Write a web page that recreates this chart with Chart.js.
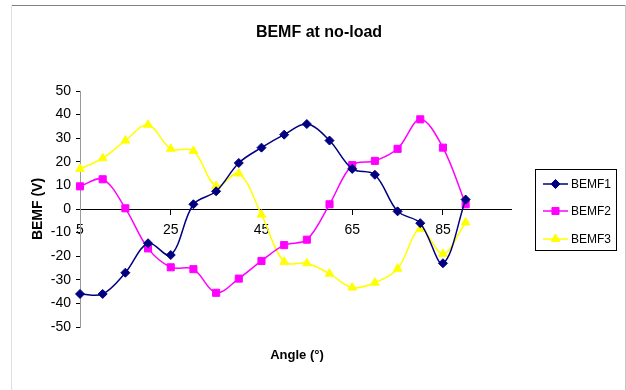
<!DOCTYPE html>
<html><head><meta charset="utf-8">
<script src="https://cdn.jsdelivr.net/npm/chart.js@4/dist/chart.umd.min.js"></script>
<style>html,body{margin:0;padding:0;background:#fff;}#wrap{width:626px;height:390px;position:relative;}</style>
</head><body><div id="wrap"><canvas id="c" width="626" height="390"></canvas></div>
<script>
const categories = ['5','10','15','20','25','30','35','40','45','50','55','60','65','70','75','80','85','90','95','100'];
const tickLabels = ['5','25','45','65','85'];
const seriesNames = ['BEMF1','BEMF2','BEMF3'];
const bemf1 = [-36, -36, -27, -14.5, -19.5, 2, 7.5, 19.5, 26, 31.5, 36, 29, 17, 14.5, -1, -6, -23, 4, null, null];
const bemf2 = [9.6, 12.6, 0.3, -16.7, -24.7, -25.5, -35.5, -29.5, -22, -15.3, -13, 2, 18.6, 20.4, 25.5, 38, 26, 2, null, null];
const bemf3 = [17, 21.5, 29, 35.7, 25.5, 24.6, 9.7, 15, -2.4, -22.4, -23, -27.4, -33.3, -31.2, -25.3, -8.4, -19, -5.7, null, null];
const chartTitle = 'BEMF at no-load';
const xTitle = 'Angle (°)';
const yTitle = 'BEMF (V)';

Chart.defaults.font.family = '"Liberation Sans", Arial, sans-serif';
Chart.defaults.color = '#000';

const colors = ['#000080', '#FF00FF', '#FFFF00'];
const styles = ['rectRot', 'rect', 'triangle'];
const radii = [4.5, 5, 5];
const seriesData = [bemf1, bemf2, bemf3];

const datasets = seriesNames.map((n, i) => ({
  label: n,
  data: seriesData[i],
  borderColor: colors[i],
  backgroundColor: colors[i],
  pointBackgroundColor: colors[i],
  pointBorderColor: colors[i],
  pointStyle: styles[i],
  pointRadius: radii[i],
  pointBorderWidth: 1,
  borderWidth: 1.5,
  tension: 0.35,
  spanGaps: false,
  yAxisID: 'y'
}));

const framePlugin = {
  id: 'frame',
  beforeDraw(chart) {
    const ctx = chart.ctx;
    ctx.save();
    ctx.fillStyle = '#fff';
    ctx.fillRect(0, 0, chart.width, chart.height);
    ctx.lineWidth = 1;
    ctx.strokeStyle = '#808080';
    ctx.beginPath(); ctx.moveTo(12, 5.5); ctx.lineTo(626, 5.5); ctx.stroke();
    ctx.strokeStyle = '#e0e0e0';
    ctx.beginPath(); ctx.moveTo(11.5, 5); ctx.lineTo(11.5, 390); ctx.stroke();
    ctx.strokeStyle = '#c8c8c8';
    ctx.beginPath(); ctx.moveTo(625.5, 5); ctx.lineTo(625.5, 390); ctx.stroke();
    ctx.restore();
  },
  afterDraw(chart) {
    const ctx = chart.ctx;
    ctx.save();
    // x axis title
    ctx.fillStyle = '#000';
    ctx.font = 'bold 13px "Liberation Sans", Arial, sans-serif';
    ctx.textAlign = 'center';
    ctx.textBaseline = 'middle';
    ctx.fillText(xTitle, 297, 355);
    // legend
    ctx.strokeStyle = '#000';
    ctx.lineWidth = 1;
    ctx.strokeRect(535.5, 169.5, 81, 81);
    const ys = [184, 211, 239];
    chart.data.datasets.forEach((ds, i) => {
      const y = ys[i];
      ctx.strokeStyle = ds.borderColor;
      ctx.lineWidth = 1.5;
      ctx.beginPath(); ctx.moveTo(543, y); ctx.lineTo(568, y); ctx.stroke();
      ctx.fillStyle = ds.pointBackgroundColor;
      ctx.strokeStyle = ds.pointBorderColor;
      ctx.lineWidth = 1;
      Chart.helpers.drawPoint(ctx, {pointStyle: ds.pointStyle, radius: ds.pointRadius, rotation: 0, borderWidth: 1}, 555.5, y);
      ctx.fillStyle = '#000';
      ctx.font = '12px "Liberation Sans", Arial, sans-serif';
      ctx.textAlign = 'left';
      ctx.textBaseline = 'middle';
      ctx.fillText(ds.label, 571, y + 0.5);
    });
    ctx.restore();
  }
};

new Chart(document.getElementById('c'), {
  type: 'line',
  data: { labels: categories, datasets },
  options: {
    responsive: false,
    animation: false,
    devicePixelRatio: 1,
    layout: { padding: { left: 12, right: 0, top: 0, bottom: 63 } },
    plugins: {
      legend: { display: false },
      tooltip: { enabled: false },
      title: {
        display: true, text: chartTitle, color: '#000',
        font: { size: 16, weight: 'bold' },
        padding: { top: 23.4, bottom: 48.4 }
      }
    },
    scales: {
      x: {
        type: 'category',
        offset: false,
        position: { y: 0 },
        afterFit: s => { s.height = 0; },
        grid: {
          drawOnChartArea: false, drawTicks: true, tickLength: 5,
          color: c => tickLabels.includes(categories[c.index]) ? '#000' : 'rgba(0,0,0,0)'
        },
        border: { color: '#000', width: 1 },
        ticks: {
          autoSkip: false, maxRotation: 0, padding: 8, color: '#000',
          font: { size: 14 },
          callback: (v, i) => tickLabels.includes(categories[i]) ? categories[i] : ''
        }
      },
      y: {
        position: 'left',
        min: -50, max: 50,
        afterFit: s => { s.width = 68; },
        ticks: { stepSize: 10, padding: 5, color: '#000', font: { size: 14 } },
        grid: { drawOnChartArea: false, tickLength: 4, color: '#000' },
        border: { color: '#999' },
        title: { display: true, text: yTitle, color: '#000', font: { size: 14, weight: 'bold' }, padding: { top: 18, bottom: 0 } }
      },
      yr: {
        position: 'right',
        display: true,
        afterFit: s => { s.width = 115; },
        grid: { display: false },
        border: { display: false },
        ticks: { display: false }
      }
    }
  },
  plugins: [framePlugin]
});
</script>
</body></html>
